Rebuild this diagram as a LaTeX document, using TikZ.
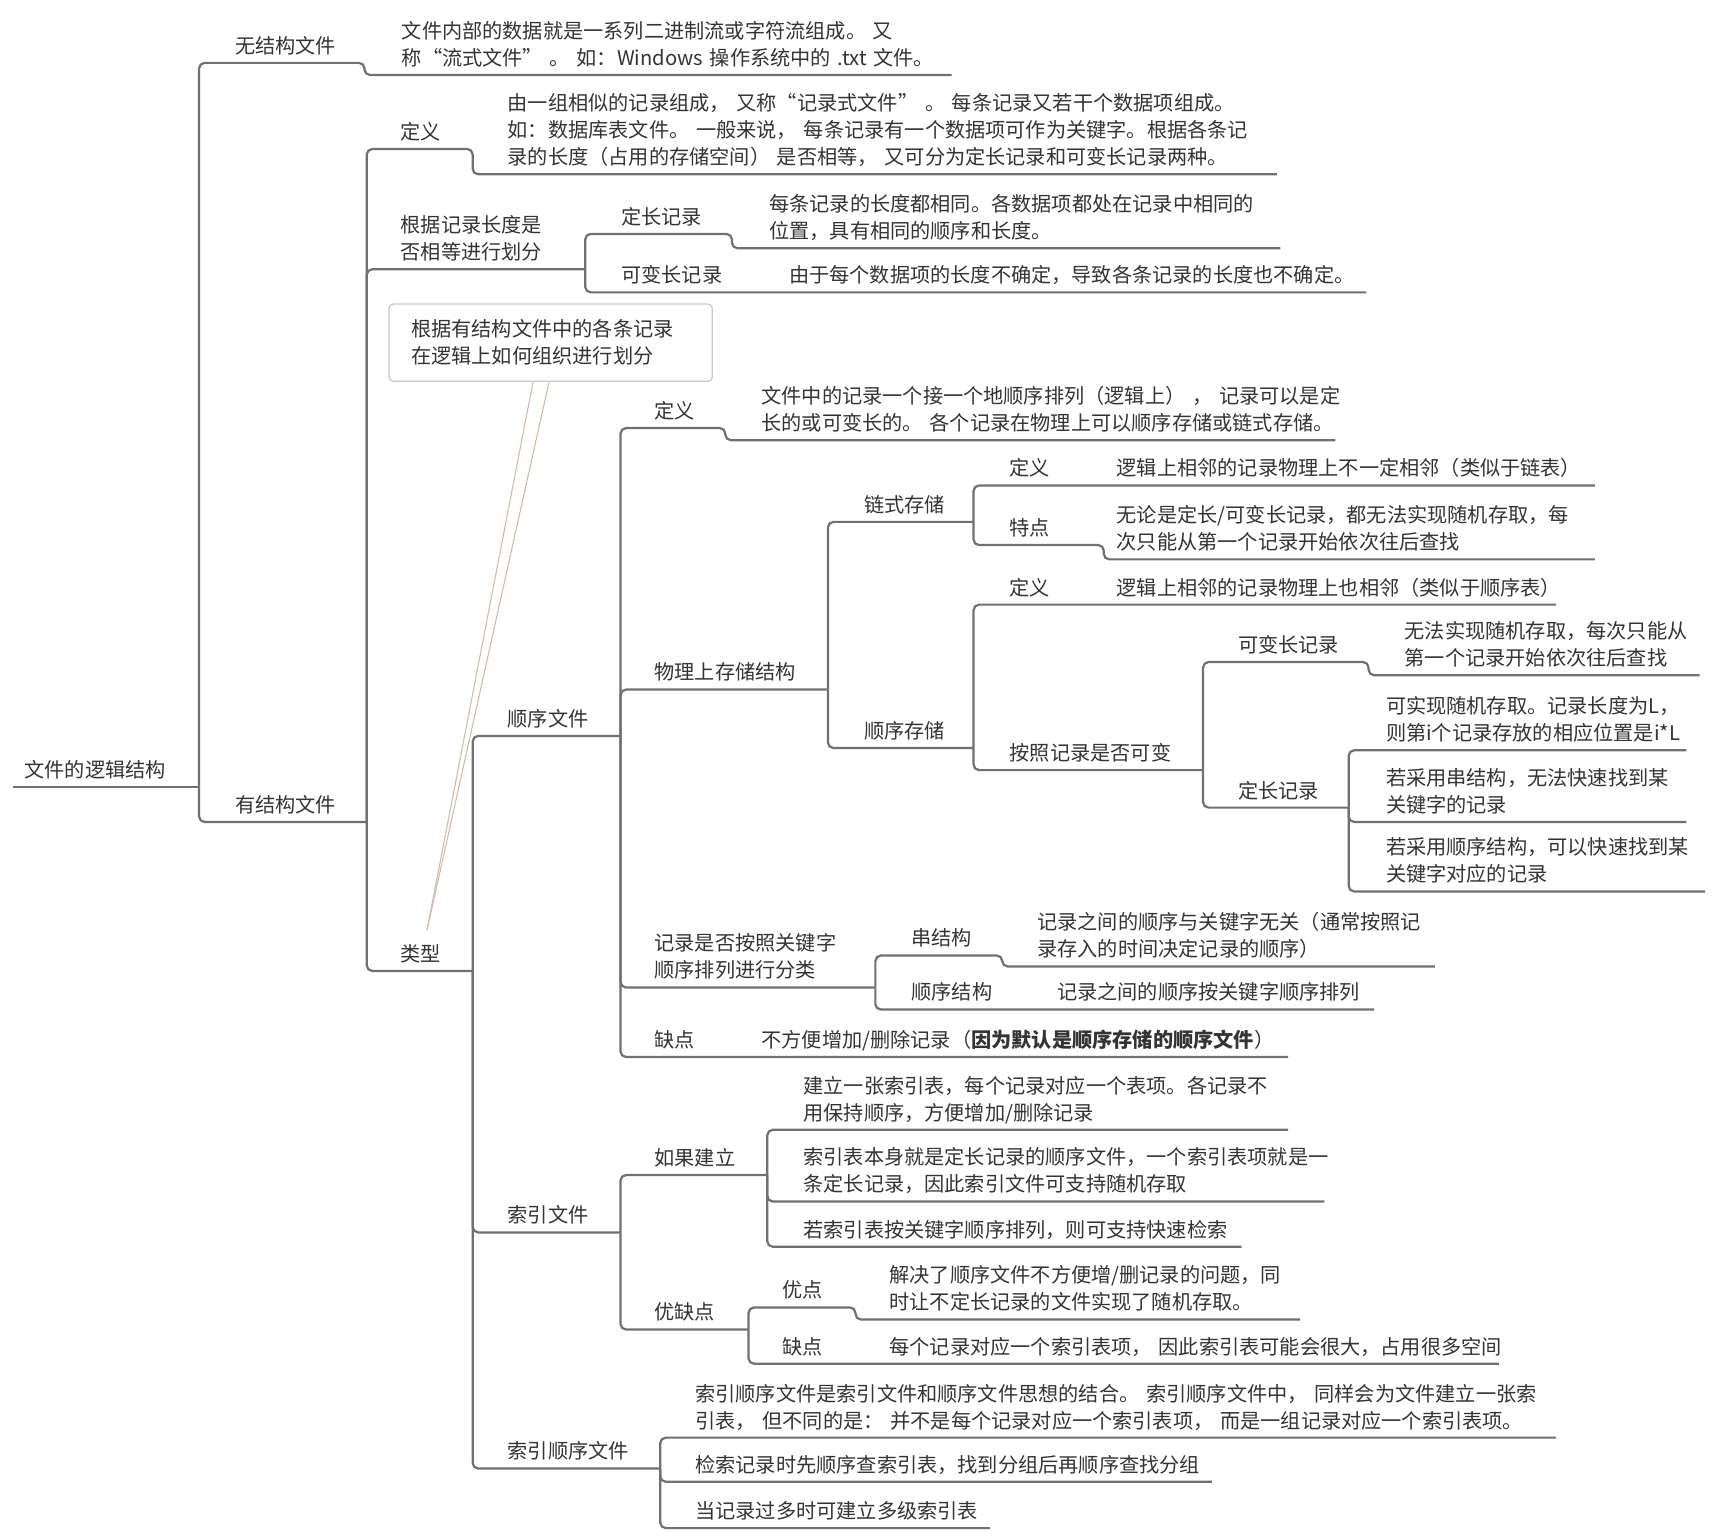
\documentclass[tikz,border=0pt]{standalone}
\usepackage{fontspec}
\setmainfont{Noto Sans CJK SC}
\hyphenpenalty=10000
\exhyphenpenalty=10000
\definecolor{inkgray}{RGB}{51,51,51}
\definecolor{linegray}{RGB}{112,112,112}
\definecolor{memogray}{RGB}{200,200,200}
\definecolor{tailtan}{RGB}{214,186,170}

\begin{document}
\begin{tikzpicture}[x=1pt, y=-1pt,
  topic/.style={anchor=south west, inner sep=0pt, align=left, text=inkgray,
    font=\fontsize{18.3}{24.5}\selectfont, execute at end node={\rule[-8.5pt]{0pt}{8.5pt}}},
  branch/.style={draw=linegray, line width=2pt, rounded corners=5pt},
  memo/.style={draw=memogray, line width=1.2pt, fill=white, rounded corners=4pt, anchor=north west,
    minimum height=70pt, inner xsep=20pt, text width=253pt, align=left,
    text=inkgray, font=\fontsize{18.3}{24.5}\selectfont},
  tail/.style={draw=tailtan, line width=1pt}]
  \useasboundingbox (0,0) rectangle (1568,1395);

  % root and first level
  \node[topic, text width=158pt] (logic) at (22,713) {文件的逻辑结构};
  \node[topic, text width=117pt] (unstr) at (213,57) {无结构文件};
  \node[topic, text width=498pt] (unstrtxt) at (364,68) {文件内部的数据就是一系列二进制流或字符流组成。~又\\称“流式文件”~。~如：Windows~操作系统中的~.txt~文件。};
  \node[topic, text width=119pt] (str) at (213,745) {有结构文件};

  % structured file
  \node[topic, text width=65pt] (strdef) at (363,135) {定义};
  \node[topic, text width=697pt] (strdeftxt) at (460,158) {由一组相似的记录组成，~又称“记录式文件”~。~每条记录又若干个数据项组成。\\如：数据库表文件。~一般来说，~每条记录有一个数据项可作为关键字。根据各条记\\录的长度（占用的存储空间）~是否相等，~又可分为定长记录和可变长记录两种。};
  \node[topic, text width=167pt] (bylen) at (363,244) {根据记录长度是\\否相等进行划分};
  \node[topic, text width=100pt] (lenfix) at (563,212) {定长记录};
  \node[topic, text width=463pt] (lenfixtxt) at (697,225) {每条记录的长度都相同。各数据项都处在记录中相同的\\位置，具有相同的顺序和长度。};
  \node[topic, text width=137pt] (lenvar) at (563,265) {可变长记录};
  \node[topic, text width=523pt] (lenvartxt) at (715,265) {由于每个数据项的长度不确定，导致各条记录的长度也不确定。};
  \node[topic, text width=65pt] (type) at (363,880) {类型};

  % sequential file
  \node[topic, text width=102pt] (seq) at (460,667) {顺序文件};
  \node[topic, text width=64pt] (seqdef) at (593,388) {定义};
  \node[topic, text width=520pt] (seqdeftxt) at (690,399) {文件中的记录一个接一个地顺序排列（逻辑上）~，~记录可以是定\\长的或可变长的。~各个记录在物理上可以顺序存储或链式存储。};
  \node[topic, text width=157pt] (phys) at (593,625) {物理上存储结构};
  \node[topic, text width=99pt] (link) at (783,473) {链式存储};
  \node[topic, text width=85pt] (linkdef) at (915,440) {定义};
  \node[topic, text width=433pt] (linkdeftxt) at (1012,440) {逻辑上相邻的记录物理上不一定相邻（类似于链表）};
  \node[topic, text width=85pt] (linkfeat) at (915,494) {特点};
  \node[topic, text width=433pt] (linkfeattxt) at (1012,507) {无论是定长/可变长记录，都无法实现随机存取，每\\次只能从第一个记录开始依次往后查找};
  \node[topic, text width=99pt] (cont) at (783,678) {顺序存储};
  \node[topic, text width=85pt] (contdef) at (915,548) {定义};
  \node[topic, text width=398pt] (contdeftxt) at (1012,548) {逻辑上相邻的记录物理上也相邻（类似于顺序表）};
  \node[topic, text width=175pt] (contby) at (915,698) {按照记录是否可变};
  \node[topic, text width=118pt] (cvar) at (1122,600) {可变长记录};
  \node[topic, text width=267pt] (cvartxt) at (1273,612) {无法实现随机存取，每次只能从\\第一个记录开始依次往后查找};
  \node[topic, text width=100pt] (cfix) at (1122,732) {定长记录};
  \node[topic, text width=272pt] (cfixa) at (1256,680) {可实现随机存取。记录长度为L，\\则第i个记录存放的相应位置是i*L};
  \node[topic, text width=272pt] (cfixb) at (1256,745) {若采用串结构，无法快速找到某\\关键字的记录};
  \node[topic, text width=289pt] (cfixc) at (1256,808) {若采用顺序结构，可以快速找到某\\关键字对应的记录};
  \node[topic, text width=200pt] (bykey) at (593,895) {记录是否按照关键字\\顺序排列进行分类};
  \node[topic, text width=82pt] (pile) at (826,866) {串结构};
  \node[topic, text width=360pt] (piletxt) at (940,876) {记录之间的顺序与关键字无关（通常按照记\\录存入的时间决定记录的顺序）};
  \node[topic, text width=119pt] (sorted) at (826,915) {顺序结构};
  \node[topic, text width=287pt] (sortedtxt) at (958,915) {记录之间的顺序按关键字顺序排列};
  \node[topic, text width=87pt] (seqcon) at (593,958) {缺点};
  \node[topic, text width=477pt] (seqcontxt) at (690,958) {不方便增加/删除记录（\textbf{因为默认是顺序存储的顺序文件}）};

  % index file
  \node[topic, text width=102pt] (idx) at (460,1117) {索引文件};
  \node[topic, text width=102pt] (idxbuild) at (593,1065) {如果建立};
  \node[topic, text width=439pt] (builda) at (728,1024) {建立一张索引表，每个记录对应一个表项。各记录不\\用保持顺序，方便增加/删除记录};
  \node[topic, text width=472pt] (buildb) at (728,1089) {索引表本身就是定长记录的顺序文件，一个索引表项就是一\\条定长记录，因此索引文件可支持随机存取};
  \node[topic, text width=397pt] (buildc) at (728,1130) {若索引表按关键字顺序排列，则可支持快速检索};
  \node[topic, text width=85pt] (idxpc) at (593,1205) {优缺点};
  \node[topic, text width=66pt] (idxpro) at (709,1185) {优点};
  \node[topic, text width=372pt] (idxprotxt) at (806,1196) {解决了顺序文件不方便增/删记录的问题，同\\时让不定长记录的文件实现了随机存取。};
  \node[topic, text width=86pt] (idxcon) at (709,1236) {缺点};
  \node[topic, text width=552pt] (idxcontxt) at (806,1236) {每个记录对应一个索引表项，~因此索引表可能会很大，占用很多空间};

  % indexed sequential file
  \node[topic, text width=138pt] (iseq) at (460,1331) {索引顺序文件};
  \node[topic, text width=780pt] (iseqa) at (630,1303) {索引顺序文件是索引文件和顺序文件思想的结合。~索引顺序文件中，~同样会为文件建立一张索\\引表，~但不同的是：~并不是每个记录对应一个索引表项，~而是一组记录对应一个索引表项。};
  \node[topic, text width=468pt] (iseqb) at (630,1343) {检索记录时先顺序查索引表，找到分组后再顺序查找分组};
  \node[topic, text width=267pt] (iseqc) at (630,1385) {当记录过多时可建立多级索引表};

  % branches
  \draw[branch] ([xshift=-10pt]logic.south west) -- (logic.south east);
  \draw[branch] (logic.south east) |- (unstr.south east) |- (unstrtxt.south east);
  \draw[branch] (logic.south east) |- (str.south east);
  \draw[branch] (str.south east) |- (strdef.south east) |- (strdeftxt.south east);
  \draw[branch] (str.south east) |- (bylen.south east);
  \draw[branch] (str.south east) |- (type.south east);
  \draw[branch] (bylen.south east) |- (lenfix.south east) |- (lenfixtxt.south east);
  \draw[branch] (bylen.south east) |- (lenvar.south east) -- (lenvartxt.south east);
  \draw[branch] (type.south east) |- (seq.south east);
  \draw[branch] (type.south east) |- (idx.south east);
  \draw[branch] (type.south east) |- (iseq.south east);
  \draw[branch] (seq.south east) |- (seqdef.south east) |- (seqdeftxt.south east);
  \draw[branch] (seq.south east) |- (phys.south east);
  \draw[branch] (seq.south east) |- (bykey.south east);
  \draw[branch] (seq.south east) |- (seqcon.south east) -- (seqcontxt.south east);
  \draw[branch] (phys.south east) |- (link.south east);
  \draw[branch] (phys.south east) |- (cont.south east);
  \draw[branch] (link.south east) |- (linkdef.south east) -- (linkdeftxt.south east);
  \draw[branch] (link.south east) |- (linkfeat.south east) |- (linkfeattxt.south east);
  \draw[branch] (cont.south east) |- (contdef.south east) -- (contdeftxt.south east);
  \draw[branch] (cont.south east) |- (contby.south east);
  \draw[branch] (contby.south east) |- (cvar.south east) |- (cvartxt.south east);
  \draw[branch] (contby.south east) |- (cfix.south east);
  \draw[branch] (cfix.south east) |- (cfixa.south east);
  \draw[branch] (cfix.south east) |- (cfixb.south east);
  \draw[branch] (cfix.south east) |- (cfixc.south east);
  \draw[branch] (bykey.south east) |- (pile.south east) |- (piletxt.south east);
  \draw[branch] (bykey.south east) |- (sorted.south east) -- (sortedtxt.south east);
  \draw[branch] (idx.south east) |- (idxbuild.south east);
  \draw[branch] (idx.south east) |- (idxpc.south east);
  \draw[branch] (idxbuild.south east) |- (builda.south east);
  \draw[branch] (idxbuild.south east) |- (buildb.south east);
  \draw[branch] (idxbuild.south east) |- (buildc.south east);
  \draw[branch] (idxpc.south east) |- (idxpro.south east) |- (idxprotxt.south east);
  \draw[branch] (idxpc.south east) |- (idxcon.south east) -- (idxcontxt.south east);
  \draw[branch] (iseq.south east) |- (iseqa.south east);
  \draw[branch] (iseq.south east) |- (iseqb.south east);
  \draw[branch] (iseq.south east) |- (iseqc.south east);

  % callout on the type branch
  \node[memo] (note) at (352,275) {根据有结构文件中的各条记录\\在逻辑上如何组织进行划分};
  \coordinate (tip) at (387,843);
  \draw[tail] ([xshift=-16pt]note.south) -- (tip);
  \draw[tail] ([xshift=-1.5pt]note.south) -- (tip);
\end{tikzpicture}
\end{document}
